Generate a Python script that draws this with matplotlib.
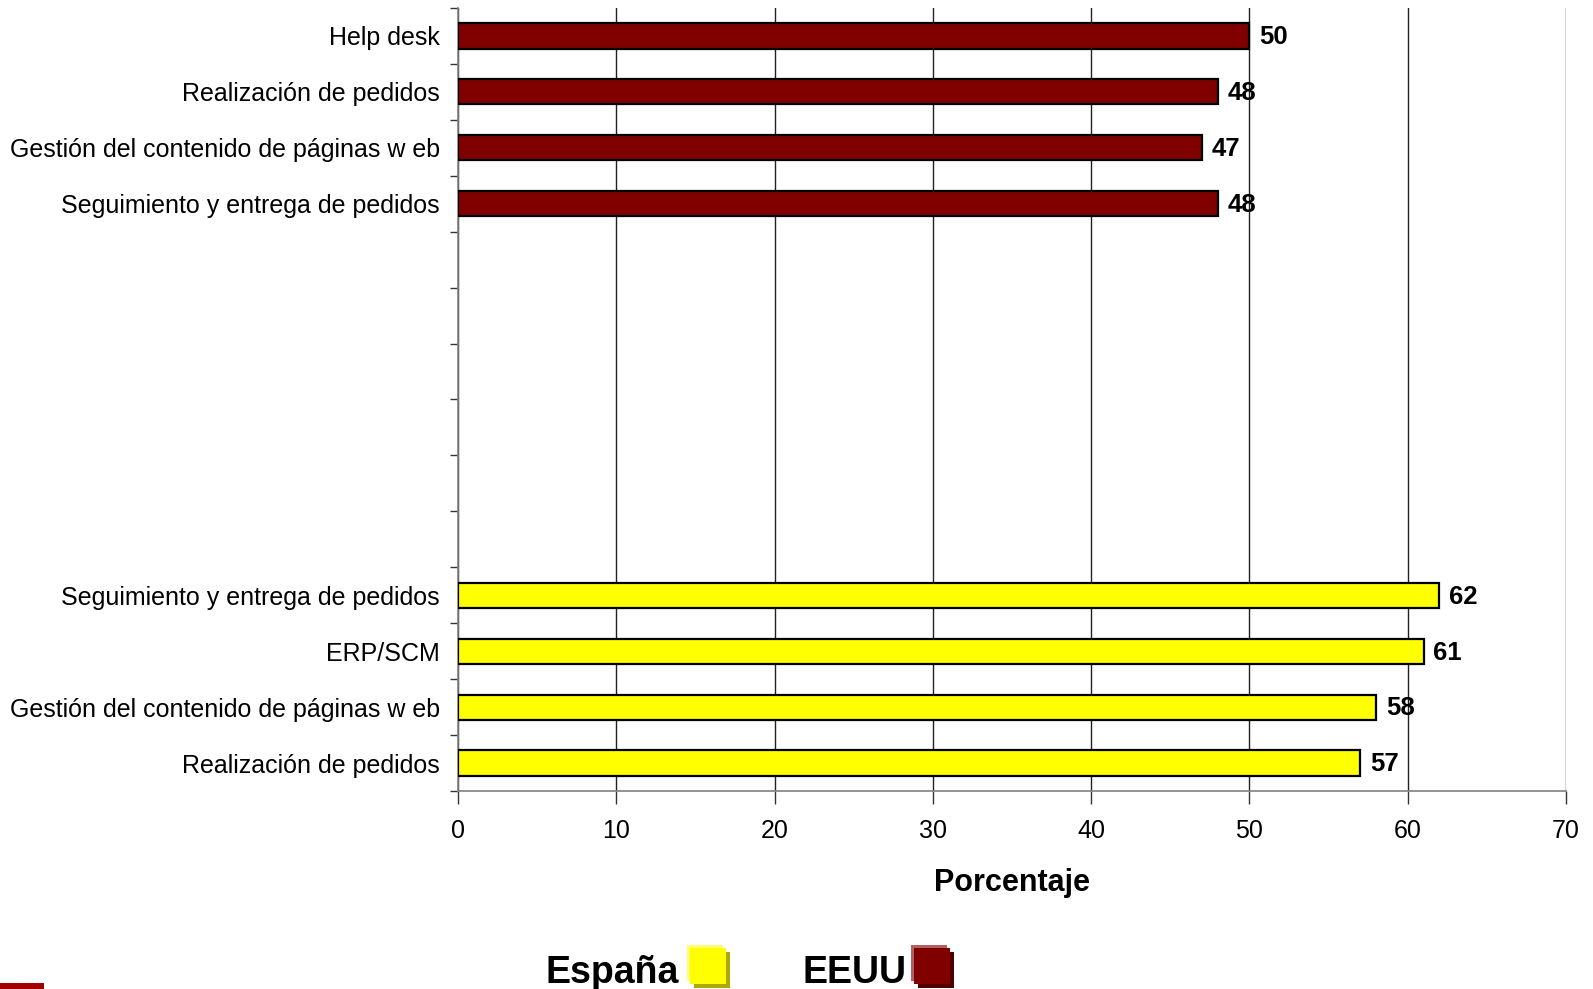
import matplotlib
matplotlib.use("Agg")
import matplotlib.pyplot as plt
from matplotlib.patches import Rectangle
from matplotlib.ticker import FixedLocator

plt.rcParams['font.family'] = ['Liberation Sans', 'DejaVu Sans']

eeuu_cats = ['Help desk', 'Realización de pedidos',
             'Gestión del contenido de páginas w eb',
             'Seguimiento y entrega de pedidos']
eeuu_vals = [50, 48, 47, 48]
espana_cats = ['Seguimiento y entrega de pedidos', 'ERP/SCM',
               'Gestión del contenido de páginas w eb',
               'Realización de pedidos']
espana_vals = [62, 61, 58, 57]
n_gap = 6
x_ticks = [0, 10, 20, 30, 40, 50, 60, 70]

c_eeuu = '#800000'
c_esp = '#ffff00'

fig = plt.figure(figsize=(15.93, 9.89), dpi=100)
ax = fig.add_axes([458/1593, 1 - 791/989, (1566 - 458)/1593, (791 - 8)/989])

labels = eeuu_cats + [''] * n_gap + espana_cats
y_eeuu = list(range(len(eeuu_cats)))
y_esp = list(range(len(eeuu_cats) + n_gap, len(labels)))

b1 = ax.barh(y_eeuu, eeuu_vals, height=0.45, color=c_eeuu, edgecolor='black', linewidth=1.6, zorder=3)
b2 = ax.barh(y_esp, espana_vals, height=0.45, color=c_esp, edgecolor='black', linewidth=1.6, zorder=3)

for bars, vals in ((b1, eeuu_vals), (b2, espana_vals)):
    for b, v in zip(bars, vals):
        ax.annotate(str(v), (b.get_width(), b.get_y() + b.get_height()/2),
                    xytext=(7, -1), textcoords='offset points', va='center', ha='left',
                    fontsize=18.5, fontweight='bold', color='black')

ax.set_xlim(0, 70)
ax.set_ylim(len(labels) - 0.5, -0.5)
ax.set_xticks(x_ticks)
ax.set_xticklabels([str(t) for t in x_ticks], fontsize=18)
ax.set_yticks(range(len(labels)))
ax.set_yticklabels(labels, fontsize=18)
ax.yaxis.set_minor_locator(FixedLocator([i - 0.5 for i in range(len(labels) + 1)]))
ax.tick_params(axis='y', which='major', length=0, pad=13)
ax.tick_params(axis='y', which='minor', length=6, width=1, color='#333333')
ax.tick_params(axis='x', which='major', length=9, width=1, color='#333333', pad=11)

ax.grid(axis='x', color='#222222', linewidth=1.0, zorder=0)
for s in ('top', 'right'):
    ax.spines[s].set_visible(False)
ax.spines['left'].set_color('#808080')
ax.spines['bottom'].set_color('#808080')
ax.spines['left'].set_linewidth(1.2)
ax.spines['bottom'].set_linewidth(1.2)

ax.set_xlabel('Porcentaje', fontsize=22, fontweight='bold', labelpad=18)

# legend
def sq(x, y, color, shadow, light):
    W, H = 1593, 989
    fig.patches.append(Rectangle(((x - 3)/W, 1 - (y + 33)/H), 36/W, 36/H, transform=fig.transFigure,
                                 facecolor=light, edgecolor='none'))
    fig.patches.append(Rectangle(((x + 4)/W, 1 - (y + 40)/H), 36/W, 36/H, transform=fig.transFigure,
                                 facecolor=shadow, edgecolor='none'))
    fig.patches.append(Rectangle((x/W, 1 - (y + 36)/H), 36/W, 36/H, transform=fig.transFigure,
                                 facecolor=color, edgecolor='none'))

fig.text(546/1593, 1 - 983/989, 'España', fontsize=27, fontweight='bold', ha='left', va='baseline')
sq(690, 948, c_esp, '#b0a800', '#ffff70')
fig.text(802/1593, 1 - 983/989, 'EEUU', fontsize=27, fontweight='bold', ha='left', va='baseline')
sq(914, 948, c_eeuu, '#500000', '#b06060')

fig.patches.append(Rectangle((0, 0), 44/1593, 6/989, transform=fig.transFigure,
                             facecolor='#a50000', edgecolor='none'))

fig.savefig('out.png', dpi=100)
